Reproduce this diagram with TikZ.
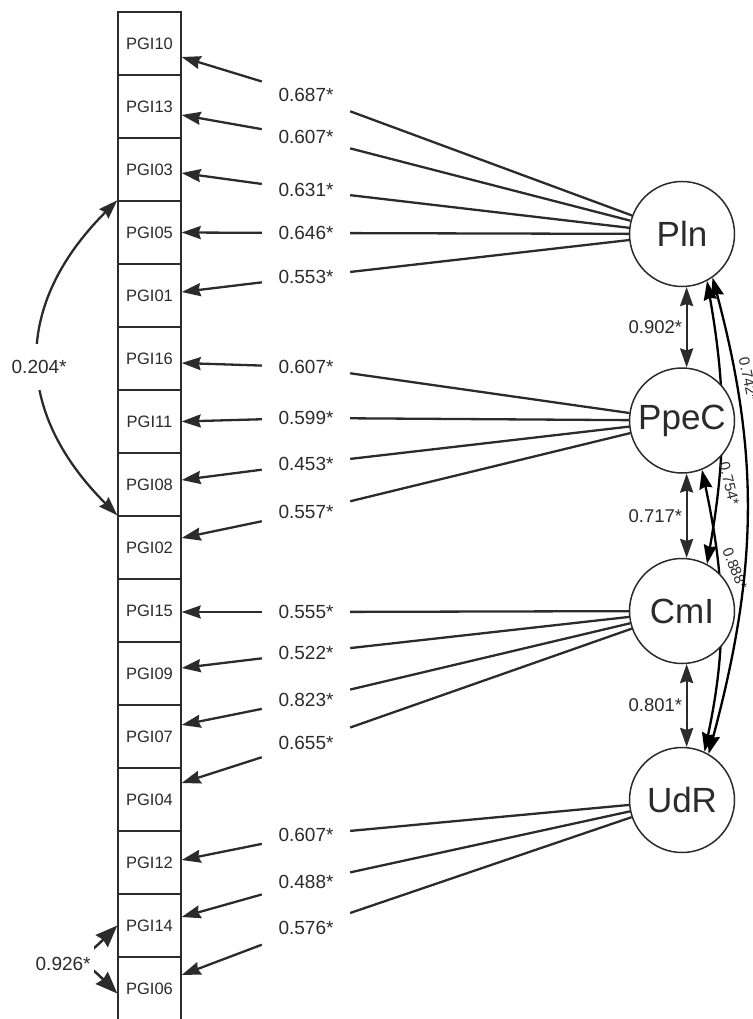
\documentclass[tikz,border=0pt]{standalone}
\usepackage{fontspec}
\setmainfont{Liberation Sans}
\usetikzlibrary{arrows.meta}
\definecolor{ink}{HTML}{2B2B2B}
\pgfdeclarelayer{background}
\pgfsetlayers{background,main}
\begin{document}
\begin{tikzpicture}[x=1pt, y=1pt, color=ink,
    item/.style={draw, line width=1.4pt, minimum width=63pt, minimum height=63pt, inner sep=0pt, font=\fontsize{16.5}{18}\selectfont},
    factor/.style={circle, draw, fill=white, line width=1.5pt, minimum size=105pt, inner sep=0pt, font=\fontsize{35}{37}\selectfont},
    coef/.style={minimum width=88pt, minimum height=36pt, inner sep=0pt, font=\fontsize{19}{21}\selectfont},
    gap/.style={fill=white, inner xsep=3pt, font=\fontsize{19}{21}\selectfont},
    tilted/.style={inner sep=1pt, font=\fontsize{15}{17}\selectfont},
    link/.style={line width=2.3pt},
    load/.style={line width=2.3pt, -{Stealth[length=19pt, width=13pt, inset=2pt]}},
    corr/.style={line width=2.3pt, {Stealth[length=19pt, width=13pt, inset=2pt]}-{Stealth[length=19pt, width=13pt, inset=2pt]}},
    bigcorr/.style={line width=2.5pt, {Stealth[length=22pt, width=17pt, inset=2pt]}-{Stealth[length=22pt, width=17pt, inset=2pt]}}]
    \useasboundingbox (0,0) rectangle (752,-1019);
    % item column
    \node[item] (P10) at (149.5,-43.5) {PGI10};
    \node[item] (P13) at (149.5,-106.5) {PGI13};
    \node[item] (P03) at (149.5,-169.5) {PGI03};
    \node[item] (P05) at (149.5,-232.5) {PGI05};
    \node[item] (P01) at (149.5,-295.5) {PGI01};
    \node[item] (P16) at (149.5,-358.5) {PGI16};
    \node[item] (P11) at (149.5,-421.5) {PGI11};
    \node[item] (P08) at (149.5,-484.5) {PGI08};
    \node[item] (P02) at (149.5,-547.5) {PGI02};
    \node[item] (P15) at (149.5,-610.5) {PGI15};
    \node[item] (P09) at (149.5,-673.5) {PGI09};
    \node[item] (P07) at (149.5,-736.5) {PGI07};
    \node[item] (P04) at (149.5,-799.5) {PGI04};
    \node[item] (P12) at (149.5,-862.5) {PGI12};
    \node[item] (P14) at (149.5,-925.5) {PGI14};
    \node[item] (P06) at (149.5,-988.5) {PGI06};
    % factors
    \node[factor] (Pln) at (682,-234) {Pln};
    \node[factor] (PpeC) at (682,-420.5) {PpeC};
    \node[factor] (CmI) at (682,-611) {CmI};
    \node[factor] (UdR) at (682,-800) {UdR};
    % loadings
    \node[coef] (a1) at (306,-95) {0.687*};
    \node[coef] (a2) at (306,-137) {0.607*};
    \node[coef] (a3) at (306,-190) {0.631*};
    \node[coef] (a4) at (306,-233) {0.646*};
    \node[coef] (a5) at (306,-277) {0.553*};
    \node[coef] (b1) at (306,-367) {0.607*};
    \node[coef] (b2) at (306,-418) {0.599*};
    \node[coef] (b3) at (306,-464) {0.453*};
    \node[coef] (b4) at (306,-512) {0.557*};
    \node[coef] (c1) at (306,-612) {0.555*};
    \node[coef] (c2) at (306,-653) {0.522*};
    \node[coef] (c3) at (306,-700) {0.823*};
    \node[coef] (c4) at (306,-743) {0.655*};
    \node[coef] (d1) at (306,-835) {0.607*};
    \node[coef] (d2) at (306,-882) {0.488*};
    \node[coef] (d3) at (306,-928) {0.576*};
    \path[link] (Pln) edge (a1) (Pln) edge (a2) (Pln) edge (a3) (Pln) edge (a4) (Pln) edge (a5);
    \path[link] (PpeC) edge (b1) (PpeC) edge (b2) (PpeC) edge (b3) (PpeC) edge (b4);
    \path[link] (CmI) edge (c1) (CmI) edge (c2) (CmI) edge (c3) (CmI) edge (c4);
    \path[link] (UdR) edge (d1) (UdR) edge (d2) (UdR) edge (d3);
    \path[load] (a1) edge ([yshift=-13.5pt]P10.east);
    \path[load] (a2) edge ([yshift=-8.5pt]P13.east);
    \path[load] (a3) edge ([yshift=-3.5pt]P03.east);
    \path[load] (a4) edge (P05.east);
    \path[load] (a5) edge ([yshift=3.5pt]P01.east);
    \path[load] (b1) edge ([yshift=-4.5pt]P16.east);
    \path[load] (b2) edge (P11.east);
    \path[load] (b3) edge ([yshift=4.5pt]P08.east);
    \path[load] (b4) edge ([yshift=9.5pt]P02.east);
    \path[load] (c1) edge ([yshift=-1.5pt]P15.east);
    \path[load] (c2) edge ([yshift=5.5pt]P09.east);
    \path[load] (c3) edge ([yshift=11.5pt]P07.east);
    \path[load] (c4) edge ([yshift=16.5pt]P04.east);
    \path[load] (d1) edge ([yshift=2.5pt]P12.east);
    \path[load] (d2) edge ([yshift=8.5pt]P14.east);
    \path[load] (d3) edge ([yshift=13.5pt]P06.east);
    % factor correlations
    \path[corr] (Pln.-85) edge node[left, font=\fontsize{18.5}{20}\selectfont] {0.902*} (PpeC.85);
    \path[corr] (PpeC.-85) edge node[left, font=\fontsize{18.5}{20}\selectfont] {0.717*} (CmI.85);
    \path[corr] (CmI.-85) edge node[left, font=\fontsize{18.5}{20}\selectfont] {0.801*} (UdR.85);
    \begin{pgfonlayer}{background}
    \path[corr] (Pln.-62) edge[out=-80, in=80] node[tilted, pos=0.73, xshift=11pt, rotate=-76] {0.754*} (CmI.62);
    \path[corr] (PpeC.-68) edge[out=-78, in=78] node[tilted, pos=0.34, xshift=17pt, rotate=-68] {0.888*} (UdR.65);
    \path[corr] (Pln.-55) edge[out=-75, in=75] node[tilted, pos=0.2, xshift=13pt, rotate=-78] {0.742*} (UdR.60);
    \end{pgfonlayer}
    % error correlations
    \path[corr] (P05.north west) edge[out=-135, in=135, looseness=1.2] node[gap, inner ysep=16pt, yshift=-9pt] {0.204*} (P02.north west);
    \path[bigcorr] (P14.west) edge[out=-135, in=135, looseness=2.5] node[gap, inner ysep=12pt, xshift=-19pt, yshift=-4pt] {0.926*} ([yshift=-5pt]P06.west);
\end{tikzpicture}
\end{document}
